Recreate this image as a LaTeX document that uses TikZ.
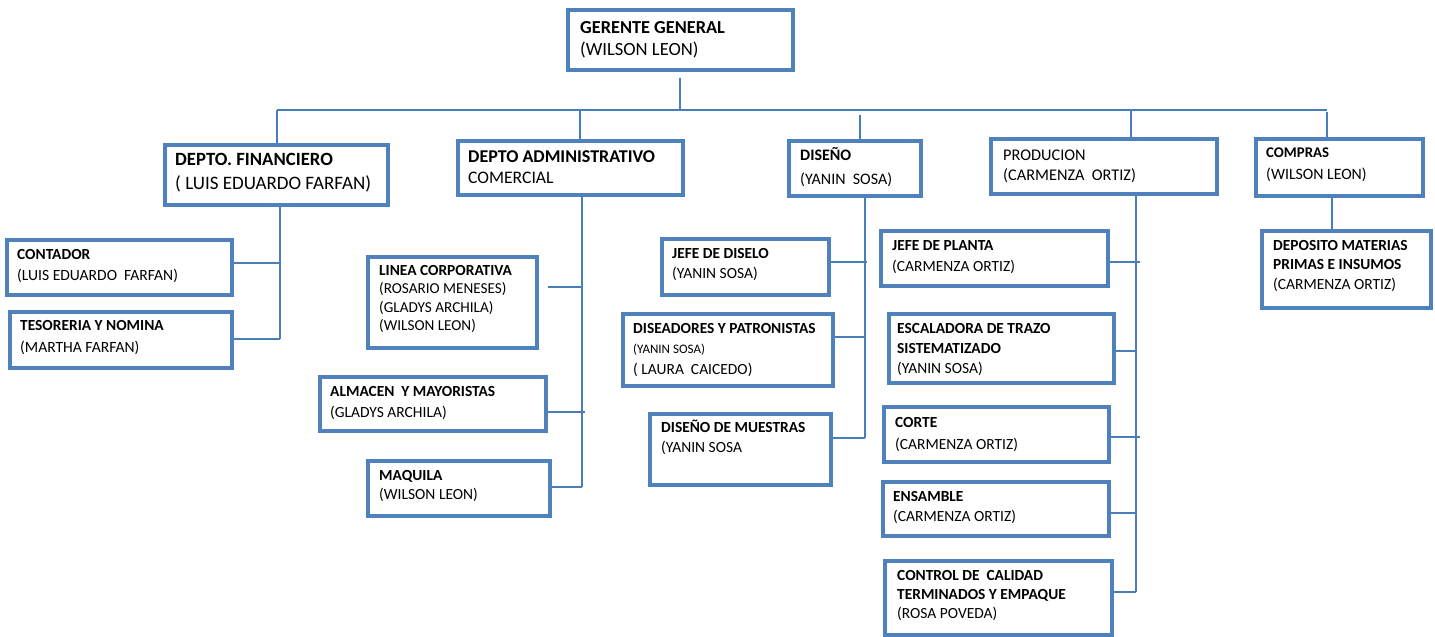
\documentclass[tikz,border=0pt]{standalone}
\usepackage{fontspec}
\setmainfont{Carlito}
\definecolor{boxblue}{RGB}{79,129,189}
\definecolor{lineblue}{RGB}{74,126,187}
% framed box from its outer corners (x1,y1) to (x2,y2)
\newcommand\orgbox[5]{\node[box, minimum width={#4-#2-3.8}, minimum height={#5-#3-3.8}] (#1) at ({(#2+#4)/2},{(#3+#5)/2}) {};}
% text block: name, left, top, regular size, line skip, heading size, lines
\newcommand\hdsz{15}
\newcommand\hd[1]{{\fontsize{\hdsz}{\baselineskip}\selectfont\bfseries #1}}
\newcommand\orgtext[7]{\node[txt, font={\renewcommand\hdsz{#6}\fontsize{#4}{#5}\selectfont}] (#1) at (#2,#3) {#7};}
\begin{document}
\begin{tikzpicture}[x=1pt,y=-1pt,
  box/.style={draw=boxblue, line width=3.8pt, fill=white, inner sep=0pt},
  txt/.style={anchor=north west, inner sep=0pt, align=left, text=black},
  link/.style={draw=lineblue, line width=1.1pt}]
\useasboundingbox[fill=white] (0,0) rectangle (1435,637);

% ---- boxes ----
\orgbox{ger}{566}{8}{795}{72}
\orgbox{fin}{163}{143}{390}{207}
\orgbox{adm}{456}{139}{685}{197}
\orgbox{dis}{787}{139}{923}{198}
\orgbox{pro}{989}{137}{1219}{196}
\orgbox{com}{1254}{137}{1425}{198}

\orgbox{con}{5}{238}{234}{297}
\orgbox{tes}{8}{310}{234}{370}

\orgbox{lin}{366}{255}{539}{350}
\orgbox{alm}{318}{375}{548}{433}
\orgbox{maq}{366}{459}{552}{518}

\orgbox{jds}{660}{237}{831}{297}
\orgbox{dyp}{621}{312}{835}{388}
\orgbox{dmu}{648}{412}{833}{487}

\orgbox{jpl}{879}{229}{1110}{288}
\orgbox{esc}{887}{312}{1116}{385}
\orgbox{cor}{882}{405}{1111}{464}
\orgbox{ens}{881}{480}{1111}{538}
\orgbox{cal}{883}{559}{1114}{637}

\orgbox{dep}{1260}{229}{1433}{310}

% ---- texts ----
\orgtext{ger-t}{580}{21}{18.6}{22}{18.3}{\hd{GERENTE GENERAL}\\(WILSON LEON)}
\orgtext{fin-t}{175}{153}{19}{24}{18.7}{\hd{DEPTO. FINANCIERO}\\( LUIS EDUARDO FARFAN)}
\orgtext{adm-t}{468}{150}{17.6}{21}{18}{\hd{DEPTO ADMINISTRATIVO}\\COMERCIAL}
\orgtext{dis-t}{800}{147}{16}{24}{16}{\hd{DISEÑO}\\(YANIN\ \ SOSA)}
\orgtext{pro-t}{1003}{150}{16.3}{20}{16.3}{PRODUCION\\(CARMENZA\ \ ORTIZ)}
\orgtext{com-t}{1266}{148}{15.8}{22}{14.8}{\hd{COMPRAS}\\(WILSON LEON)}

\orgtext{con-t}{17}{249}{15.6}{21}{15.4}{\hd{CONTADOR}\\(LUIS EDUARDO\ \ FARFAN)}
\orgtext{tes-t}{20}{320}{15.6}{22}{15.4}{\hd{TESORERIA Y NOMINA}\\(MARTHA FARFAN)}

\orgtext{lin-t}{379}{265}{15.2}{18.5}{15.4}{\hd{LINEA CORPORATIVA}\\(ROSARIO MENESES)\\(GLADYS ARCHILA)\\(WILSON LEON)}
\orgtext{alm-t}{330}{386}{15.5}{21}{15.4}{\hd{ALMACEN\ \ Y MAYORISTAS}\\(GLADYS ARCHILA)}
\orgtext{maq-t}{379}{470}{15.5}{19}{15.4}{\hd{MAQUILA}\\(WILSON LEON)}

\orgtext{jds-t}{672}{248}{15.5}{20}{15.4}{\hd{JEFE DE DISELO}\\(YANIN SOSA)}
\orgtext{dyp-t}{633}{323}{15.5}{20.5}{15.4}{\hd{DISEADORES Y PATRONISTAS}\\{\fontsize{13}{20.5}\selectfont(YANIN SOSA)}\\(\ LAURA\ \ CAICEDO)}
\orgtext{dmu-t}{661}{420}{15.5}{20}{15.4}{\hd{DISEÑO DE MUESTRAS}\\(YANIN SOSA}

\orgtext{jpl-t}{892}{240}{15.5}{21}{15.4}{\hd{JEFE DE PLANTA}\\(CARMENZA ORTIZ)}
\orgtext{esc-t}{897}{323}{15.5}{20}{15.4}{\hd{ESCALADORA DE TRAZO}\\\hd{SISTEMATIZADO}\\(YANIN SOSA)}
\orgtext{cor-t}{895}{417}{15.5}{22}{15.4}{\hd{CORTE}\\(CARMENZA ORTIZ)}
\orgtext{ens-t}{893}{491}{15.5}{20}{15.4}{\hd{ENSAMBLE}\\(CARMENZA ORTIZ)}
\orgtext{cal-t}{897}{570}{15.5}{19}{15.4}{\hd{CONTROL DE\ \ CALIDAD}\\\hd{TERMINADOS Y EMPAQUE}\\(ROSA POVEDA)}

\orgtext{dep-t}{1273}{240}{15.5}{19.5}{15.4}{\hd{DEPOSITO MATERIAS}\\\hd{PRIMAS E INSUMOS}\\(CARMENZA ORTIZ)}

% ---- top level bus ----
\coordinate (busL) at (277,110);
\coordinate (busR) at (1327,110);
\coordinate (ger-d) at (680,78);
\coordinate (adm-d) at (580,110);
\coordinate (dis-d) at (860,115);
\coordinate (pro-d) at (1131,110);
\coordinate (com-d) at (1327,112);
\draw[link] (ger-d) -- (ger-d |- busL);
\draw[link] (busL) -- (busR);
\draw[link] (busL) -- (busL |- fin.north);
\draw[link] (adm-d) -- (adm-d |- adm.north);
\draw[link] (dis-d) -- (dis-d |- dis.north);
\draw[link] (pro-d) -- (pro-d |- pro.north);
\draw[link] (com-d) -- (com-d |- com.north);

% ---- financiero ----
\coordinate (fin-j1) at (280,263);
\coordinate (fin-j2) at (280,339);
\draw[link] (fin.south -| fin-j1) -- (fin-j2);
\draw[link] (con.east |- fin-j1) -- (fin-j1);
\draw[link] (tes.east |- fin-j2) -- (fin-j2);

% ---- administrativo ----
\coordinate (adm-j1) at (582,287);
\coordinate (adm-j2) at (582,412);
\coordinate (adm-j3) at (582,487);
\draw[link] (adm.south -| adm-j1) -- (adm-j3);
\draw[link] ([xshift=9pt]lin.east |- adm-j1) -- (adm-j1);
\draw[link] (alm.east |- adm-j2) -- ([xshift=3pt]adm-j2);
\draw[link] (maq.east |- adm-j3) -- (adm-j3);

% ---- diseno ----
\coordinate (dis-j1) at (865,262);
\coordinate (dis-j2) at (865,337);
\coordinate (dis-j3) at (865,438);
\draw[link] (dis.south -| dis-j1) -- (dis-j3);
\draw[link] (jds.east |- dis-j1) -- ([xshift=2pt]dis-j1);
\draw[link] (dyp.east |- dis-j2) -- (dis-j2);
\draw[link] (dmu.east |- dis-j3) -- (dis-j3);

% ---- produccion ----
\coordinate (pro-j1) at (1136,262);
\coordinate (pro-j2) at (1136,351);
\coordinate (pro-j3) at (1136,437);
\coordinate (pro-j4) at (1136,513);
\coordinate (pro-j5) at (1136,592);
\draw[link] (pro.south -| pro-j1) -- (pro-j5);
\draw[link] (jpl.east |- pro-j1) -- ([xshift=4pt]pro-j1);
\draw[link] (esc.east |- pro-j2) -- (pro-j2);
\draw[link] (cor.east |- pro-j3) -- ([xshift=4pt]pro-j3);
\draw[link] (ens.east |- pro-j4) -- (pro-j4);
\draw[link] (cal.east |- pro-j5) -- (pro-j5);

% ---- compras ----
\coordinate (com-j) at (1332,229);
\draw[link] (com.south -| com-j) -- (dep.north -| com-j);
\end{tikzpicture}
\end{document}
